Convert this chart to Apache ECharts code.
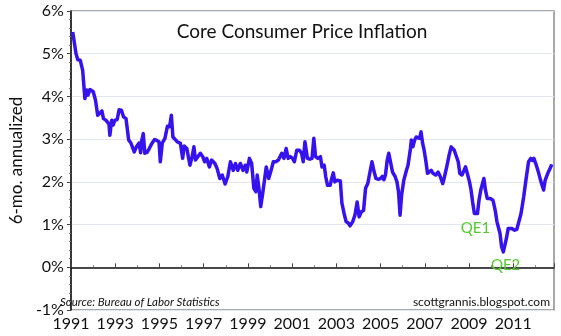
<!DOCTYPE html>
<html>
<head>
<meta charset="utf-8">
<script src="https://cdn.jsdelivr.net/npm/echarts@6/dist/echarts.min.js"></script>
<style>
  html, body { margin: 0; padding: 0; background: #ffffff; }
  #chart { width: 561px; height: 336px; }
</style>
</head>
<body>
<div id="chart"></div>
<script>
// Core CPI, 6-month annualized rate (%), by decimal year
const dates = [
  1991.08, 1991.23, 1991.31, 1991.42, 1991.53, 1991.63, 1991.71, 1991.77, 1991.86,
  1992.01, 1992.11, 1992.21, 1992.30, 1992.40, 1992.47, 1992.59, 1992.65, 1992.72, 1992.76, 1992.84, 1992.91, 1992.98,
  1993.09, 1993.18, 1993.28, 1993.38, 1993.49, 1993.61, 1993.71, 1993.86, 1993.96,
  1994.08, 1994.15, 1994.19, 1994.27, 1994.34, 1994.44, 1994.54, 1994.66, 1994.78, 1994.88, 1994.98,
  1995.04, 1995.13, 1995.25, 1995.36, 1995.46, 1995.54, 1995.61, 1995.68, 1995.80, 1995.95,
  1996.05, 1996.12, 1996.24, 1996.38, 1996.48, 1996.56, 1996.63, 1996.70, 1996.85, 1996.96,
  1997.04, 1997.14, 1997.26, 1997.36, 1997.51, 1997.61, 1997.73, 1997.84, 1997.97,
  1998.09, 1998.21, 1998.34, 1998.44, 1998.54, 1998.66, 1998.78, 1998.88, 1998.95,
  1999.07, 1999.17, 1999.27, 1999.36, 1999.42, 1999.50, 1999.58, 1999.68, 1999.83, 1999.94,
  2000.05, 2000.15, 2000.26, 2000.38, 2000.53, 2000.63, 2000.73, 2000.82, 2000.92,
  2001.02, 2001.10, 2001.21, 2001.33, 2001.43, 2001.50, 2001.58, 2001.69, 2001.80, 2001.90, 2001.98,
  2002.06, 2002.16, 2002.28, 2002.35, 2002.45, 2002.52, 2002.60, 2002.72, 2002.79, 2002.86, 2002.93,
  2003.04, 2003.18, 2003.25, 2003.35, 2003.44, 2003.55, 2003.62, 2003.74, 2003.84, 2003.94,
  2004.03, 2004.13, 2004.23, 2004.32, 2004.42, 2004.52, 2004.61, 2004.71, 2004.79, 2004.90,
  2005.00, 2005.08, 2005.15, 2005.22, 2005.30, 2005.37, 2005.44, 2005.54, 2005.66, 2005.74, 2005.81, 2005.88, 2005.95,
  2006.05, 2006.17, 2006.24, 2006.35, 2006.39, 2006.46, 2006.54, 2006.61, 2006.68, 2006.76, 2006.83, 2006.90, 2006.97,
  2007.05, 2007.12, 2007.19, 2007.29, 2007.37, 2007.49, 2007.60, 2007.70, 2007.81, 2007.89, 2007.99,
  2008.10, 2008.19, 2008.26, 2008.33, 2008.42, 2008.51, 2008.58, 2008.68, 2008.77, 2008.84, 2008.94,
  2009.02, 2009.09, 2009.16, 2009.24, 2009.31, 2009.38, 2009.45, 2009.53, 2009.60, 2009.67, 2009.74, 2009.82, 2009.96,
  2010.08, 2010.18, 2010.26, 2010.33, 2010.40, 2010.47, 2010.55, 2010.62, 2010.69, 2010.77, 2010.91,
  2011.06, 2011.16, 2011.25, 2011.35, 2011.47, 2011.57, 2011.69, 2011.79, 2011.86, 2011.93,
  2012.04, 2012.15, 2012.23, 2012.30, 2012.37, 2012.44, 2012.56, 2012.66, 2012.74
];
const coreCpi = [
  5.51, 5.00, 4.86, 4.85, 4.61, 3.95, 4.15, 4.03, 4.16,
  4.11, 3.91, 3.56, 3.52, 3.66, 3.48, 3.44, 3.46, 3.35, 3.09, 3.44, 3.33, 3.44,
  3.46, 3.69, 3.68, 3.52, 3.48, 2.98, 2.91, 2.70, 2.82,
  2.91, 2.68, 2.94, 3.13, 2.67, 2.69, 2.78, 2.90, 2.99, 2.97, 2.94,
  2.47, 2.91, 3.02, 3.30, 3.29, 3.56, 3.05, 3.01, 2.94, 2.90,
  2.55, 2.84, 2.78, 2.39, 2.59, 2.82, 2.51, 2.47, 2.67, 2.59,
  2.47, 2.55, 2.35, 2.51, 2.43, 2.31, 2.08, 2.16, 1.95,
  2.12, 2.47, 2.27, 2.43, 2.27, 2.43, 2.27, 2.39, 2.23,
  2.55, 2.43, 1.85, 1.77, 2.16, 1.85, 1.42, 1.77, 2.35, 2.08,
  2.27, 2.47, 2.47, 2.51, 2.67, 2.55, 2.78, 2.55, 2.59,
  2.55, 2.47, 2.74, 2.74, 2.67, 2.47, 2.94, 2.55, 2.53, 2.55, 3.02,
  2.59, 2.55, 2.59, 2.35, 2.39, 2.12, 1.92, 1.92, 2.08, 2.21, 2.00,
  2.04, 2.02, 1.50, 1.26, 1.07, 1.03, 0.97, 1.07, 1.22, 1.53,
  1.18, 1.30, 1.33, 1.85, 1.96, 2.23, 2.47, 2.23, 2.08, 2.06,
  2.08, 2.13, 2.05, 2.16, 2.51, 2.67, 2.63, 2.23, 2.12, 2.00, 1.77, 1.22, 1.69,
  2.04, 2.27, 2.39, 2.78, 2.98, 2.82, 2.98, 3.05, 3.09, 3.02, 3.17, 2.90, 2.74,
  2.47, 2.20, 2.23, 2.27, 2.20, 2.16, 2.23, 2.12, 1.96, 2.12, 2.35,
  2.63, 2.82, 2.80, 2.74, 2.72, 2.47, 2.20, 2.16, 2.16, 2.35, 2.16,
  2.00, 1.81, 1.53, 1.26, 1.22, 1.26, 1.57, 1.81, 1.83, 2.08, 1.81, 1.61, 1.61,
  1.57, 1.34, 1.07, 1.03, 0.79, 0.48, 0.36, 0.36, 0.68, 0.91, 0.91,
  0.87, 0.89, 0.87, 1.26, 1.65, 2.04, 2.47, 2.55, 2.50, 2.55,
  2.39, 2.20, 2.04, 2.04, 1.81, 2.04, 2.20, 2.31, 2.41
];

// Axis tick labels
const yearLabels = ['1991', '1993', '1995', '1997', '1999', '2001', '2003', '2005', '2007', '2009', '2011'];
const pctLabels = ['-1%', '0%', '1%', '2%', '3%', '4%', '5%', '6%'];

// Annotations: [label, decimal year, value]
const notes = [
  ['QE1', 2009.29, 0.92],
  ['QE2', 2010.65, 0.04]
];

const BASE_YEAR = 1991;
const END_YEAR = 2012.84;
const FONT = 'Lato, "Liberation Sans", sans-serif';

const chart = echarts.init(document.getElementById('chart'), null, { renderer: 'canvas' });

chart.setOption({
  animation: false,
  backgroundColor: '#ffffff',
  grid: {
    left: 55, right: 7, top: 11, bottom: 26,
    show: true, borderColor: '#8c8c8c', borderWidth: 1.5, backgroundColor: 'transparent'
  },
  xAxis: {
    type: 'value',
    min: 0,
    max: END_YEAR - BASE_YEAR,
    interval: 2,
    axisLine: { lineStyle: { color: '#111', width: 1.5 } },
    axisTick: { inside: true, length: 4, lineStyle: { color: '#444' } },
    minorTick: { show: true, splitNumber: 2, length: 2, lineStyle: { color: '#777' } },
    splitLine: { show: false },
    axisLabel: {
      showMaxLabel: false,
      margin: 6,
      fontFamily: FONT, fontSize: 16, color: '#111',
      formatter: v => {
        const i = Math.round(v / 2);
        return Math.abs(v - i * 2) < 1e-6 && yearLabels[i] ? yearLabels[i] : '';
      }
    }
  },
  yAxis: {
    type: 'value',
    min: -1, max: 6, interval: 1,
    name: '6-mo. annualized',
    nameLocation: 'middle',
    nameGap: 41,
    nameTextStyle: { fontFamily: FONT, fontSize: 17, color: '#111' },
    axisLine: { show: true, lineStyle: { color: '#111', width: 1.5 } },
    axisTick: { show: true, length: 4, lineStyle: { color: '#444' } },
    minorTick: { show: true, splitNumber: 5, length: 2, lineStyle: { color: '#777' } },
    splitLine: { lineStyle: { color: '#e1e7f1', width: 1 } },
    axisLabel: {
      margin: 7,
      fontFamily: FONT, fontSize: 16, color: '#111',
      formatter: v => pctLabels[Math.round(v) + 1]
    }
  },
  series: [{
    type: 'line',
    data: dates.map((d, i) => [d - BASE_YEAR, coreCpi[i]]),
    showSymbol: false,
    smooth: false,
    lineStyle: { color: '#3512ee', width: 3.5, join: 'round' },
    markPoint: {
      symbol: 'circle',
      symbolSize: 0,
      silent: true,
      label: {
        show: true, position: 'inside',
        fontFamily: FONT, fontSize: 15, color: '#52cc2c',
        formatter: p => p.name
      },
      data: notes.map(n => ({ name: n[0], coord: [n[1] - BASE_YEAR, n[2]] }))
    }
  }],
  graphic: [
    {
      type: 'text', x: 302, y: 32,
      style: {
        text: 'Core Consumer Price Inflation',
        fontFamily: FONT, fontSize: 19, fill: '#111',
        textAlign: 'center', textVerticalAlign: 'middle'
      }
    },
    {
      type: 'text', x: 60, y: 302,
      style: {
        text: 'Source: Bureau of Labor Statistics',
        fontFamily: FONT, fontSize: 11.5, fontStyle: 'italic', fill: '#111',
        textAlign: 'left', textVerticalAlign: 'middle'
      }
    },
    {
      type: 'text', x: 550, y: 302,
      style: {
        text: 'scottgrannis.blogspot.com',
        fontFamily: FONT, fontSize: 12, fill: '#111',
        textAlign: 'right', textVerticalAlign: 'middle'
      }
    }
  ]
});
</script>
</body>
</html>
